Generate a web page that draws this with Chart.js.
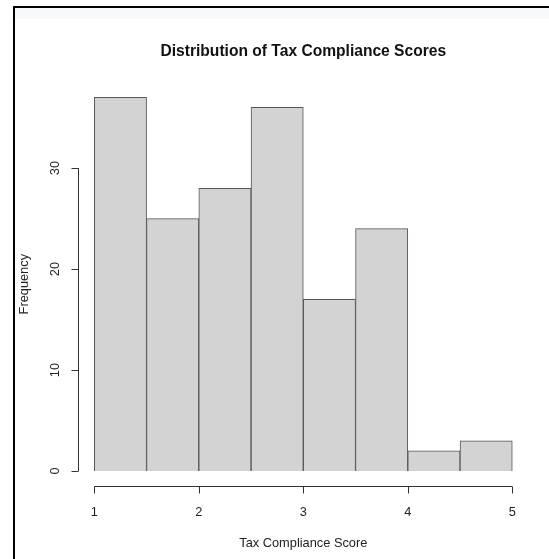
<!DOCTYPE html>
<html>
<head>
<meta charset="utf-8">
<script src="https://cdn.jsdelivr.net/npm/chart.js@4"></script>
<style>
  html, body { margin: 0; padding: 0; background: #fff; }
  canvas { display: block; }
</style>
</head>
<body>
<canvas id="hist" width="549" height="559"></canvas>
<script>
// histogram data
var binEdges = [1, 1.5, 2, 2.5, 3, 3.5, 4, 4.5, 5];
var counts = [37, 25, 28, 36, 17, 24, 2, 3];
var xTicks = [1, 2, 3, 4, 5];
var yTicks = [0, 10, 20, 30];

var titleText = 'Distribution of Tax Compliance Scores';
var xTitle = 'Tax Compliance Score';
var yTitle = 'Frequency';

var points = counts.map(function (c, i) {
    return { x: (binEdges[i] + binEdges[i + 1]) / 2, y: c };
});

// R-like axes, padded 4% past the data range
var xLo = binEdges[0], xHi = binEdges[binEdges.length - 1];
var yHi = Math.max.apply(null, counts);
var xPad = (xHi - xLo) * 0.04, yPad = yHi * 0.04;

var FONT = '"Liberation Sans", Arial, sans-serif';

var rAxes = {
    id: 'rAxes',
    beforeDraw: function (chart) {
        var ctx = chart.ctx;
        ctx.save();
        ctx.fillStyle = '#fff';
        ctx.fillRect(0, 0, chart.width, chart.height);
        ctx.fillStyle = '#f8f9fb';
        ctx.fillRect(15, 8, chart.width - 15, 11);
        ctx.fillStyle = '#000';
        ctx.fillRect(13, 6, chart.width - 13, 2);
        ctx.fillRect(13, 6, 2, chart.height - 6);
        ctx.restore();
    },
    afterDraw: function (chart) {
        var ctx = chart.ctx;
        var xs = chart.scales.x, ys = chart.scales.y;
        var area = chart.chartArea;
        var tick = 7;
        ctx.save();
        ctx.strokeStyle = '#333';
        ctx.lineWidth = 1;
        ctx.fillStyle = '#222';
        ctx.font = '12.8px ' + FONT;

        // y axis
        var ax = Math.round(area.left) + 0.5;
        ctx.beginPath();
        ctx.moveTo(ax, ys.getPixelForValue(yTicks[0]));
        ctx.lineTo(ax, ys.getPixelForValue(yTicks[yTicks.length - 1]));
        yTicks.forEach(function (t) {
            var py = Math.round(ys.getPixelForValue(t)) + 0.5;
            ctx.moveTo(ax, py);
            ctx.lineTo(ax - tick, py);
        });
        ctx.stroke();
        ctx.textAlign = 'center';
        ctx.textBaseline = 'middle';
        yTicks.forEach(function (t) {
            var py = ys.getPixelForValue(t);
            ctx.save();
            ctx.translate(55, py);
            ctx.rotate(-Math.PI / 2);
            ctx.fillText(String(t), 0, 0);
            ctx.restore();
        });

        // x axis
        var ay = Math.round(area.bottom) + 0.5;
        ctx.beginPath();
        ctx.moveTo(xs.getPixelForValue(xTicks[0]), ay);
        ctx.lineTo(xs.getPixelForValue(xTicks[xTicks.length - 1]), ay);
        xTicks.forEach(function (t) {
            var px = Math.round(xs.getPixelForValue(t)) + 0.5;
            ctx.moveTo(px, ay);
            ctx.lineTo(px, ay + tick);
        });
        ctx.stroke();
        xTicks.forEach(function (t) {
            ctx.fillText(String(t), xs.getPixelForValue(t), 512);
        });

        // titles
        var cx = (area.left + area.right) / 2;
        var cy = (area.top + area.bottom) / 2;
        ctx.fillText(xTitle, cx, 543);
        ctx.save();
        ctx.translate(24, cy);
        ctx.rotate(-Math.PI / 2);
        ctx.fillText(yTitle, 0, 0);
        ctx.restore();
        ctx.font = 'bold 15.6px ' + FONT;
        ctx.fillStyle = '#111';
        ctx.fillText(titleText, cx, 52);
        ctx.restore();
    }
};

new Chart(document.getElementById('hist'), {
    type: 'bar',
    data: {
        datasets: [{
            data: points,
            backgroundColor: '#d3d3d3',
            borderColor: '#555',
            borderWidth: 1,
            barPercentage: 1,
            categoryPercentage: 1
        }]
    },
    options: {
        responsive: false,
        animation: false,
        layout: {
            padding: { left: 77.6, right: 20, top: 82.4, bottom: 73 }
        },
        plugins: {
            legend: { display: false },
            tooltip: { enabled: false },
            title: { display: false }
        },
        scales: {
            x: { type: 'linear', offset: false, min: xLo - xPad, max: xHi + xPad, display: false },
            y: { min: -yPad, max: yHi + yPad, display: false }
        }
    },
    plugins: [rAxes]
});
</script>
</body>
</html>
